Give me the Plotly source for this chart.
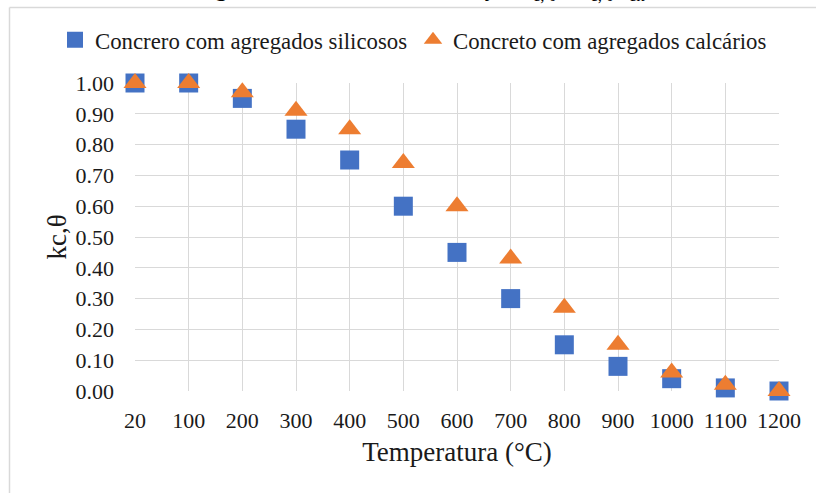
import plotly.graph_objects as go

# Temperature categories (°C) and strength reduction factors kc,θ
temperaturas = ["20", "100", "200", "300", "400", "500", "600",
                "700", "800", "900", "1000", "1100", "1200"]
kc_silicosos = [1.00, 1.00, 0.95, 0.85, 0.75, 0.60, 0.45,
                0.30, 0.15, 0.08, 0.04, 0.01, 0.00]
kc_calcarios = [1.00, 1.00, 0.97, 0.91, 0.85, 0.74, 0.60,
                0.43, 0.27, 0.15, 0.06, 0.02, 0.00]
y_ticks = [0.0, 0.1, 0.2, 0.3, 0.4, 0.5, 0.6, 0.7, 0.8, 0.9, 1.0]

FONT = "Liberation Serif"
AZUL = "#4472C4"
LARANJA = "#ED7D31"
TEXTO = "#1a1a1a"

W, H = 816, 493
ML, MR, MT, MB = 135, 37, 83, 102
PW, PH = W - ML - MR, H - MT - MB


def px_x(px):
    return (px - ML) / PW


def px_y(py):
    return (H - MB - py) / PH


fig = go.Figure()
fig.add_trace(go.Scatter(
    x=temperaturas, y=kc_silicosos, mode="markers",
    name="Concrero com agregados silicosos",
    marker=dict(symbol="square", size=19, color=AZUL,
                line=dict(width=0)),
    cliponaxis=False,
))
fig.add_trace(go.Scatter(
    x=temperaturas, y=kc_calcarios, mode="markers",
    name="Concreto com agregados calcários",
    marker=dict(symbol="triangle-up", size=20, color=LARANJA,
                line=dict(width=0)),
    cliponaxis=False,
))

# Chart frame (top and left edges)
frame = dict(color="#D9D9D9", width=1.5)
fig.add_shape(type="line", xref="paper", yref="paper",
              x0=px_x(9.5), x1=px_x(830), y0=px_y(7.5), y1=px_y(7.5),
              line=frame, layer="below")
fig.add_shape(type="line", xref="paper", yref="paper",
              x0=px_x(9.5), x1=px_x(9.5), y0=px_y(7.5), y1=px_y(510),
              line=frame, layer="below")

# Figure caption above the frame
fig.add_annotation(
    xref="paper", yref="paper", x=px_x(419), y=1, yshift=76,
    xanchor="center", yanchor="bottom", showarrow=False,
    text="<b>Figura A.2</b> — Valores da relação k<sub>c, θ</sub> = f<sub>c, θ</sub>/f<sub>ck</sub>",
    font=dict(family=FONT, size=24, color="#000000"),
)

fig.update_layout(
    width=W, height=H,
    margin=dict(l=ML, r=MR, t=MT, b=MB, autoexpand=False),
    paper_bgcolor="white", plot_bgcolor="white",
    font=dict(family=FONT, color=TEXTO),
    legend=dict(
        orientation="h", x=px_x(55), xanchor="left",
        y=px_y(40), yanchor="middle",
        font=dict(family=FONT, size=22.8, color=TEXTO),
        itemwidth=30, entrywidth=313, bgcolor="rgba(0,0,0,0)",
    ),
    xaxis=dict(
        type="category", range=[0, len(temperaturas) - 1],
        showgrid=True, gridcolor="#D9D9D9", gridwidth=1,
        showline=False, zeroline=False, ticks="",
        ticklabelstandoff=14,
        tickfont=dict(family=FONT, size=22, color=TEXTO),
        title=dict(text="Temperatura (°C)", standoff=10,
                   font=dict(family=FONT, size=27, color=TEXTO)),
    ),
    yaxis=dict(
        range=[0, 1], tickvals=y_ticks,
        ticktext=[f"{v:.2f}" for v in y_ticks],
        showgrid=True, gridcolor="#D9D9D9", gridwidth=1,
        showline=False, zeroline=False, ticks="",
        ticklabelstandoff=20,
        tickfont=dict(family=FONT, size=22, color=TEXTO),
        title=dict(text="kc,θ", standoff=1,
                   font=dict(family=FONT, size=27, color=TEXTO)),
    ),
)

fig.write_html("out.html")
